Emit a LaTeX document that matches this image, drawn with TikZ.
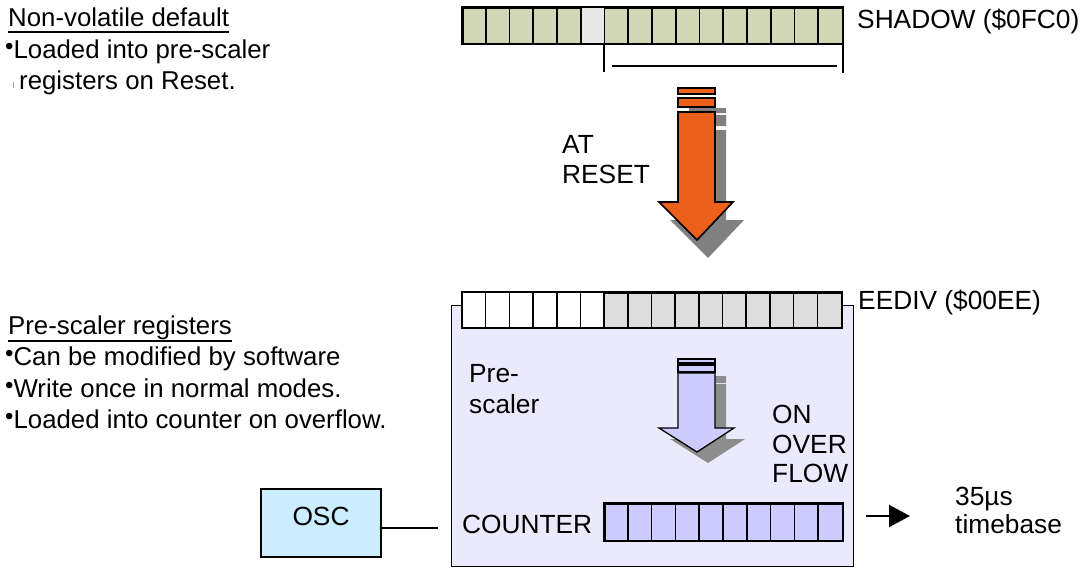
\documentclass[tikz,border=0pt]{standalone}
\usepackage{fontspec}
\setmainfont{Liberation Sans}
\usetikzlibrary{arrows.meta}
\definecolor{regolive}{RGB}{208,214,182}
\definecolor{reglight}{RGB}{232,232,232}
\definecolor{eegray}{RGB}{220,220,220}
\definecolor{boxfill}{RGB}{234,234,252}
\definecolor{cntfill}{RGB}{204,204,255}
\definecolor{oscfill}{RGB}{204,236,255}
\definecolor{orangearrow}{RGB}{236,96,28}
\definecolor{arrowshadow}{RGB}{128,128,128}
\definecolor{lavarrow}{RGB}{204,204,255}
\newcommand\mybul{{\fontsize{24}{24}\selectfont\raisebox{4pt}{\textbullet}}}
\begin{document}
\begin{tikzpicture}[x=1pt,y=-1pt,line join=miter,
  lbl/.style={anchor=base west,inner sep=0pt,font=\fontsize{26.3}{30}\selectfont},
  side/.style={anchor=base west,inner sep=0pt,font=\fontsize{25.8}{29}\selectfont},
  regline/.style={draw=black,line width=1.6pt},
  thinline/.style={draw=black,line width=1.3pt},
  regbox/.style={regline,inner sep=0pt,anchor=north west}]
\useasboundingbox (0,0) rectangle (1091,579);

% ---------- left texts ----------
\node[side] (nvd) at (8,26) {Non-volatile default};
\draw[line width=1.2pt] ([yshift=-6pt]nvd.base west) -- ([yshift=-6pt]nvd.base east);
\node[side] (nv1) at (5,58) {\mybul Loaded into pre-scaler};
\node[side] (nv2) at (19,89) {registers on Reset.};
\draw[black!35,line width=0.8pt] (13,82) -- (13,88);

\node[side] (psr) at (8,334) {Pre-scaler registers};
\draw[line width=1.2pt] ([yshift=-7pt]psr.base west) -- ([yshift=-7pt]psr.base east);
\node[side] (ps1) at (5,365) {\mybul Can be modified by software};
\node[side] (ps2) at (5,397) {\mybul Write once in normal modes.};
\node[side] (ps3) at (5,428) {\mybul Loaded into counter on overflow.};

% ---------- SHADOW register ----------
\node[regbox,fill=regolive,minimum width=380pt,minimum height=36pt] (shadow) at (462,7) {};
\fill[reglight] (580.75,7) rectangle (604.5,43);
\foreach \i in {1,...,15} \draw[regline] ({462+23.75*\i},7) -- ({462+23.75*\i},43);
\draw[regline] (shadow.north west) rectangle (shadow.south east);
\node[lbl] (shadowlbl) at (857,28) {SHADOW (\$0FC0)};
% bracket
\draw[thinline] (604,43) -- (604,72);
\draw[thinline] (843,43) -- (843,73);
\draw[thinline] (612,66) -- (837,66);

% ---------- AT RESET arrow ----------
\fill[arrowshadow,shift={(11,18)}]
  (678,90) rectangle (715,95) (678,97) rectangle (715,108)
  (678,112) -- (715,112) -- (715,202) -- (733,202) -- (697,240) -- (659,202) -- (678,202) -- cycle;
\draw[draw=black,line width=1.3pt,fill=orangearrow]
  (678,88) rectangle (715,94) (678,98) rectangle (715,107);
\draw[regline,fill=orangearrow]
  (678,112) -- (715,112) -- (715,202) -- (733,202) -- (697,240) -- (659,202) -- (678,202) -- cycle;
\node[lbl] (at) at (562,153) {AT};
\node[lbl] (reset) at (562,183) {RESET};

% ---------- Pre-scaler box ----------
\node[thinline,fill=boxfill,inner sep=0pt,anchor=north west,minimum width=402pt,minimum height=261pt] (presc) at (451,305) {};
\node[regbox,fill=eegray,minimum width=379pt,minimum height=35pt] (eediv) at (462,292) {};
\fill[white] (462,292) rectangle (604.1,327);
\foreach \i in {1,...,15} \draw[regline] ({462+23.69*\i},292) -- ({462+23.69*\i},327);
\draw[regline] (eediv.north west) rectangle (eediv.south east);
\node[lbl] (eedivlbl) at (858,309) {EEDIV (\$00EE)};

\node[lbl] (pre1) at (469,382) {Pre-};
\node[lbl] (pre2) at (469,413) {scaler};

% lavender arrow
\fill[arrowshadow!90,shift={(11,11)}]
  (678,365) rectangle (715,372)
  (678,373) -- (715,373) -- (715,428) -- (734,428) -- (697,452) -- (659,428) -- (678,428) -- cycle;
\draw[draw=black,line width=1.1pt,fill=lavarrow]
  (678,359) rectangle (715,363) (678,365) rectangle (715,372);
\draw[thinline,fill=lavarrow]
  (678,373) -- (715,373) -- (715,428) -- (734,428) -- (697,452) -- (659,428) -- (678,428) -- cycle;

\node[lbl] (on1) at (772,423) {ON};
\node[lbl] (on2) at (772,453) {OVER};
\node[lbl] (on3) at (772,482) {FLOW};

% counter
\node[lbl] (cntlbl) at (462,533) {COUNTER};
\node[regbox,fill=cntfill,minimum width=238pt,minimum height=37pt] (counter) at (604,503) {};
\foreach \i in {1,...,9} \draw[regline] ({604+23.8*\i},503) -- ({604+23.8*\i},540);
\draw[regline] (counter.north west) rectangle (counter.south east);

% ---------- OSC ----------
\node[thinline,fill=oscfill,inner sep=0pt,minimum width=120pt,minimum height=68pt,text depth=14pt,font=\fontsize{26.3}{30}\selectfont] (osc) at (321,523) {OSC};
\coordinate (boxin) at (438,528);
\draw[thinline] (osc.east |- boxin) -- (boxin);

% ---------- output ----------
\coordinate (outa) at (866,516);
\coordinate (outb) at (910,516);
\draw[regline,-{Triangle[length=21pt,width=22pt]}] (outa) -- (outb);
\node[lbl] (t1) at (955,505) {35µs};
\node[lbl] (t2) at (955,533) {timebase};
\end{tikzpicture}
\end{document}
